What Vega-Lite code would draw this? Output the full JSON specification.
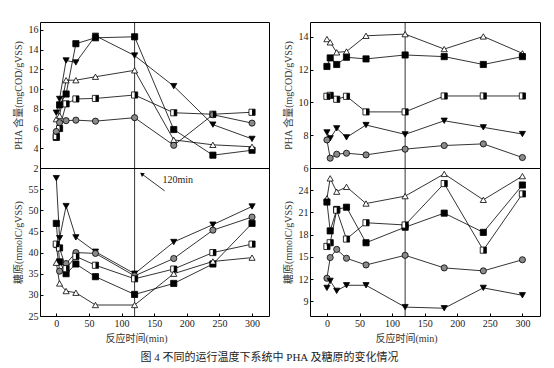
{
  "$schema": "https://vega.github.io/schema/vega-lite/v6.json",
  "padding": {"left": 12, "top": 21, "right": 5, "bottom": 4},
  "background": "white",
  "data": {"values": [
      {"p":"lt","s":"sq","t":0,"v":5.1},{"p":"lt","s":"sq","t":5,"v":8.4},{"p":"lt","s":"sq","t":15,"v":9.5},{"p":"lt","s":"sq","t":30,"v":14.6},{"p":"lt","s":"sq","t":60,"v":15.2},{"p":"lt","s":"sq","t":120,"v":15.3},{"p":"lt","s":"sq","t":180,"v":5.9},{"p":"lt","s":"sq","t":240,"v":3.3},{"p":"lt","s":"sq","t":300,"v":3.8},
      {"p":"lt","s":"hsq","t":0,"v":5.2},{"p":"lt","s":"hsq","t":5,"v":6.0},{"p":"lt","s":"hsq","t":15,"v":8.5},{"p":"lt","s":"hsq","t":30,"v":9.0},{"p":"lt","s":"hsq","t":60,"v":9.05},{"p":"lt","s":"hsq","t":120,"v":9.4},{"p":"lt","s":"hsq","t":180,"v":7.6},{"p":"lt","s":"hsq","t":240,"v":7.45},{"p":"lt","s":"hsq","t":300,"v":7.65},
      {"p":"lt","s":"tdn","t":0,"v":7.6},{"p":"lt","s":"tdn","t":5,"v":9.0},{"p":"lt","s":"tdn","t":15,"v":12.9},{"p":"lt","s":"tdn","t":30,"v":12.7},{"p":"lt","s":"tdn","t":60,"v":15.4},{"p":"lt","s":"tdn","t":120,"v":13.4},{"p":"lt","s":"tdn","t":180,"v":10.3},{"p":"lt","s":"tdn","t":240,"v":6.4},{"p":"lt","s":"tdn","t":300,"v":4.95},
      {"p":"lt","s":"tri","t":0,"v":6.95},{"p":"lt","s":"tri","t":5,"v":7.3},{"p":"lt","s":"tri","t":15,"v":10.9},{"p":"lt","s":"tri","t":30,"v":10.9},{"p":"lt","s":"tri","t":60,"v":11.25},{"p":"lt","s":"tri","t":120,"v":11.9},{"p":"lt","s":"tri","t":180,"v":4.85},{"p":"lt","s":"tri","t":240,"v":4.35},{"p":"lt","s":"tri","t":300,"v":4.15},
      {"p":"lt","s":"circ","t":0,"v":5.7},{"p":"lt","s":"circ","t":5,"v":6.6},{"p":"lt","s":"circ","t":15,"v":6.8},{"p":"lt","s":"circ","t":30,"v":6.85},{"p":"lt","s":"circ","t":60,"v":6.75},{"p":"lt","s":"circ","t":120,"v":7.1},{"p":"lt","s":"circ","t":180,"v":4.3},{"p":"lt","s":"circ","t":240,"v":7.4},{"p":"lt","s":"circ","t":300,"v":6.55},
      {"p":"lb","s":"tdn","t":0,"v":57.6},{"p":"lb","s":"tdn","t":5,"v":43.4},{"p":"lb","s":"tdn","t":15,"v":51.0},{"p":"lb","s":"tdn","t":30,"v":43.6},{"p":"lb","s":"tdn","t":60,"v":40.2},{"p":"lb","s":"tdn","t":120,"v":35.0},{"p":"lb","s":"tdn","t":180,"v":42.5},{"p":"lb","s":"tdn","t":240,"v":46.6},{"p":"lb","s":"tdn","t":300,"v":50.9},
      {"p":"lb","s":"circ","t":0,"v":41.8},{"p":"lb","s":"circ","t":5,"v":35.6},{"p":"lb","s":"circ","t":15,"v":37.4},{"p":"lb","s":"circ","t":30,"v":40.0},{"p":"lb","s":"circ","t":60,"v":39.8},{"p":"lb","s":"circ","t":120,"v":34.5},{"p":"lb","s":"circ","t":180,"v":38.6},{"p":"lb","s":"circ","t":240,"v":45.3},{"p":"lb","s":"circ","t":300,"v":48.4},
      {"p":"lb","s":"sq","t":0,"v":46.9},{"p":"lb","s":"sq","t":5,"v":37.8},{"p":"lb","s":"sq","t":15,"v":35.0},{"p":"lb","s":"sq","t":30,"v":37.3},{"p":"lb","s":"sq","t":60,"v":34.3},{"p":"lb","s":"sq","t":120,"v":30.1},{"p":"lb","s":"sq","t":180,"v":32.7},{"p":"lb","s":"sq","t":240,"v":37.3},{"p":"lb","s":"sq","t":300,"v":46.9},
      {"p":"lb","s":"hsq","t":0,"v":42.0},{"p":"lb","s":"hsq","t":5,"v":41.1},{"p":"lb","s":"hsq","t":15,"v":36.2},{"p":"lb","s":"hsq","t":30,"v":39.1},{"p":"lb","s":"hsq","t":60,"v":37.0},{"p":"lb","s":"hsq","t":120,"v":33.8},{"p":"lb","s":"hsq","t":180,"v":36.1},{"p":"lb","s":"hsq","t":240,"v":40.0},{"p":"lb","s":"hsq","t":300,"v":42.0},
      {"p":"lb","s":"tri","t":0,"v":37.6},{"p":"lb","s":"tri","t":5,"v":32.7},{"p":"lb","s":"tri","t":15,"v":30.9},{"p":"lb","s":"tri","t":30,"v":30.5},{"p":"lb","s":"tri","t":60,"v":27.6},{"p":"lb","s":"tri","t":120,"v":27.6},{"p":"lb","s":"tri","t":180,"v":35.0},{"p":"lb","s":"tri","t":240,"v":37.9},{"p":"lb","s":"tri","t":300,"v":38.8},
      {"p":"rt","s":"tri","t":0,"v":13.86},{"p":"rt","s":"tri","t":5,"v":13.66},{"p":"rt","s":"tri","t":15,"v":13.05},{"p":"rt","s":"tri","t":30,"v":13.1},{"p":"rt","s":"tri","t":60,"v":14.06},{"p":"rt","s":"tri","t":120,"v":14.16},{"p":"rt","s":"tri","t":180,"v":13.25},{"p":"rt","s":"tri","t":240,"v":14.02},{"p":"rt","s":"tri","t":300,"v":12.99},
      {"p":"rt","s":"sq","t":0,"v":12.19},{"p":"rt","s":"sq","t":5,"v":12.71},{"p":"rt","s":"sq","t":15,"v":12.31},{"p":"rt","s":"sq","t":30,"v":12.75},{"p":"rt","s":"sq","t":60,"v":12.65},{"p":"rt","s":"sq","t":120,"v":12.89},{"p":"rt","s":"sq","t":180,"v":12.79},{"p":"rt","s":"sq","t":240,"v":12.31},{"p":"rt","s":"sq","t":300,"v":12.79},
      {"p":"rt","s":"hsq","t":0,"v":10.37},{"p":"rt","s":"hsq","t":5,"v":10.43},{"p":"rt","s":"hsq","t":15,"v":10.19},{"p":"rt","s":"hsq","t":30,"v":10.37},{"p":"rt","s":"hsq","t":60,"v":9.42},{"p":"rt","s":"hsq","t":120,"v":9.42},{"p":"rt","s":"hsq","t":180,"v":10.39},{"p":"rt","s":"hsq","t":240,"v":10.39},{"p":"rt","s":"hsq","t":300,"v":10.39},
      {"p":"rt","s":"tdn","t":0,"v":8.17},{"p":"rt","s":"tdn","t":5,"v":7.81},{"p":"rt","s":"tdn","t":15,"v":8.42},{"p":"rt","s":"tdn","t":30,"v":7.87},{"p":"rt","s":"tdn","t":60,"v":8.62},{"p":"rt","s":"tdn","t":120,"v":8.05},{"p":"rt","s":"tdn","t":180,"v":8.88},{"p":"rt","s":"tdn","t":240,"v":8.48},{"p":"rt","s":"tdn","t":300,"v":8.07},
      {"p":"rt","s":"circ","t":0,"v":7.71},{"p":"rt","s":"circ","t":5,"v":6.6},{"p":"rt","s":"circ","t":15,"v":6.84},{"p":"rt","s":"circ","t":30,"v":6.9},{"p":"rt","s":"circ","t":60,"v":6.8},{"p":"rt","s":"circ","t":120,"v":7.15},{"p":"rt","s":"circ","t":180,"v":7.37},{"p":"rt","s":"circ","t":240,"v":7.47},{"p":"rt","s":"circ","t":300,"v":6.64},
      {"p":"rb","s":"tri","t":0,"v":22.9},{"p":"rb","s":"tri","t":5,"v":25.6},{"p":"rb","s":"tri","t":15,"v":23.8},{"p":"rb","s":"tri","t":30,"v":24.45},{"p":"rb","s":"tri","t":60,"v":22.2},{"p":"rb","s":"tri","t":120,"v":23.2},{"p":"rb","s":"tri","t":180,"v":26.2},{"p":"rb","s":"tri","t":240,"v":22.7},{"p":"rb","s":"tri","t":300,"v":25.9},
      {"p":"rb","s":"sq","t":0,"v":22.4},{"p":"rb","s":"sq","t":5,"v":18.5},{"p":"rb","s":"sq","t":15,"v":21.4},{"p":"rb","s":"sq","t":30,"v":21.7},{"p":"rb","s":"sq","t":60,"v":16.9},{"p":"rb","s":"sq","t":120,"v":19.0},{"p":"rb","s":"sq","t":180,"v":20.9},{"p":"rb","s":"sq","t":240,"v":18.3},{"p":"rb","s":"sq","t":300,"v":24.7},
      {"p":"rb","s":"hsq","t":0,"v":16.4},{"p":"rb","s":"hsq","t":5,"v":16.9},{"p":"rb","s":"hsq","t":15,"v":21.3},{"p":"rb","s":"hsq","t":30,"v":17.4},{"p":"rb","s":"hsq","t":60,"v":19.6},{"p":"rb","s":"hsq","t":120,"v":19.3},{"p":"rb","s":"hsq","t":180,"v":24.9},{"p":"rb","s":"hsq","t":240,"v":15.9},{"p":"rb","s":"hsq","t":300,"v":23.5},
      {"p":"rb","s":"circ","t":0,"v":12.1},{"p":"rb","s":"circ","t":5,"v":14.9},{"p":"rb","s":"circ","t":15,"v":16.0},{"p":"rb","s":"circ","t":30,"v":14.8},{"p":"rb","s":"circ","t":60,"v":13.9},{"p":"rb","s":"circ","t":120,"v":15.2},{"p":"rb","s":"circ","t":180,"v":13.5},{"p":"rb","s":"circ","t":240,"v":13.1},{"p":"rb","s":"circ","t":300,"v":14.6},
      {"p":"rb","s":"tdn","t":0,"v":10.8},{"p":"rb","s":"tdn","t":5,"v":11.75},{"p":"rb","s":"tdn","t":15,"v":10.4},{"p":"rb","s":"tdn","t":30,"v":11.15},{"p":"rb","s":"tdn","t":60,"v":11.15},{"p":"rb","s":"tdn","t":120,"v":8.2},{"p":"rb","s":"tdn","t":180,"v":8.05},{"p":"rb","s":"tdn","t":240,"v":10.8},{"p":"rb","s":"tdn","t":300,"v":9.8}
  ]},
  "columns": 2,
  "spacing": {"row": 0, "column": 41},
  "bounds": "flush",
  "title": {"text": "图 4   不同的运行温度下系统中 PHA 及糖原的变化情况", "orient": "bottom", "anchor": "middle", "fontSize": 11, "fontWeight": "normal", "font": "Liberation Serif, Noto Sans CJK SC", "color": "#222", "offset": 8, "dx": -7},
  "concat": [
    {
      "width": 229, "height": 146,
      "layer": [
        {"transform": [{"filter": "datum.p==='lt' && datum.s==='sq' && datum.t===120"}], "mark": {"type": "rule", "color": "black", "strokeWidth": 0.8}, "encoding": {"x": {"field": "t", "type": "quantitative", "axis": null}}},
        {"transform": [{"filter": "datum.p==='lt'"}], "mark": {"type": "line", "color": "black", "strokeWidth": 0.8},
         "encoding": {"x": {"field": "t", "type": "quantitative", "scale": {"domain": [-25, 326], "nice": false, "zero": false}, "axis": null},
                      "y": {"field": "v", "type": "quantitative", "scale": {"domain": [2, 16.8], "nice": false, "zero": false}, "axis": {"values": [2,4,6,8,10,12,14,16], "format": "d", "tickCount": 30, "labelOverlap": false, "title": "PHA 含量(mgCOD/gVSS)"}},
                      "detail": {"field": "s", "type": "nominal"}}},
        {"transform": [{"filter": "datum.p==='lt'"}], "mark": {"type": "point", "filled": true, "stroke": "black", "strokeWidth": 0.8, "size": 38, "opacity": 1},
         "encoding": {"x": {"field": "t", "type": "quantitative", "axis": null}, "y": {"field": "v", "type": "quantitative"},
                      "shape": {"field": "s", "type": "nominal", "scale": {"domain": ["sq","hsq","tdn","tri","circ"], "range": ["square","square","triangle-down","triangle-up","circle"]}},
                      "fill": {"field": "s", "type": "nominal", "scale": {"domain": ["sq","hsq","tdn","tri","circ"], "range": ["black","white","black","white","#8a8a8a"]}}}},
        {"transform": [{"filter": "datum.p==='lt' && datum.s==='hsq'"}], "mark": {"type": "point", "filled": true, "fill": "black", "shape": "M0,-1L1,-1L1,1L0,1Z", "size": 38, "opacity": 1},
         "encoding": {"x": {"field": "t", "type": "quantitative", "axis": null}, "y": {"field": "v", "type": "quantitative"}}}
      ]
    },
    {
      "width": 230, "height": 146,
      "layer": [
        {"transform": [{"filter": "datum.p==='rt' && datum.s==='sq' && datum.t===120"}], "mark": {"type": "rule", "color": "black", "strokeWidth": 0.8}, "encoding": {"x": {"field": "t", "type": "quantitative", "axis": null}}},
        {"transform": [{"filter": "datum.p==='rt'"}], "mark": {"type": "line", "color": "black", "strokeWidth": 0.8},
         "encoding": {"x": {"field": "t", "type": "quantitative", "scale": {"domain": [-26, 327], "nice": false, "zero": false}, "axis": null},
                      "y": {"field": "v", "type": "quantitative", "scale": {"domain": [6, 14.9], "nice": false, "zero": false}, "axis": {"values": [6,8,10,12,14], "format": "d", "tickCount": 30, "labelOverlap": false, "title": "PHA 含量(mgCOD/gVSS)"}},
                      "detail": {"field": "s", "type": "nominal"}}},
        {"transform": [{"filter": "datum.p==='rt'"}], "mark": {"type": "point", "filled": true, "stroke": "black", "strokeWidth": 0.8, "size": 38, "opacity": 1},
         "encoding": {"x": {"field": "t", "type": "quantitative", "axis": null}, "y": {"field": "v", "type": "quantitative"},
                      "shape": {"field": "s", "type": "nominal", "scale": {"domain": ["sq","hsq","tdn","tri","circ"], "range": ["square","square","triangle-down","triangle-up","circle"]}},
                      "fill": {"field": "s", "type": "nominal", "scale": {"domain": ["sq","hsq","tdn","tri","circ"], "range": ["black","white","black","white","#8a8a8a"]}}}},
        {"transform": [{"filter": "datum.p==='rt' && datum.s==='hsq'"}], "mark": {"type": "point", "filled": true, "fill": "black", "shape": "M0,-1L1,-1L1,1L0,1Z", "size": 38, "opacity": 1},
         "encoding": {"x": {"field": "t", "type": "quantitative", "axis": null}, "y": {"field": "v", "type": "quantitative"}}}
      ]
    },
    {
      "width": 229, "height": 148,
      "layer": [
        {"transform": [{"filter": "datum.p==='lb' && datum.s==='sq' && datum.t===120"}], "mark": {"type": "rule", "color": "black", "strokeWidth": 0.8}, "encoding": {"x": {"field": "t", "type": "quantitative"}}},
        {"transform": [{"filter": "datum.p==='lb'"}], "mark": {"type": "line", "color": "black", "strokeWidth": 0.8},
         "encoding": {"x": {"field": "t", "type": "quantitative", "scale": {"domain": [-25, 326], "nice": false, "zero": false}, "axis": {"values": [0,50,100,150,200,250,300], "format": "d", "tickCount": 30, "labelOverlap": false, "title": "反应时间(min)", "titleX": 96}},
                      "y": {"field": "v", "type": "quantitative", "scale": {"domain": [25, 60], "nice": false, "zero": false}, "axis": {"values": [25,30,35,40,45,50,55], "format": "d", "tickCount": 30, "labelOverlap": false, "title": "糖原(mmolC/gVSS)"}},
                      "detail": {"field": "s", "type": "nominal"}}},
        {"transform": [{"filter": "datum.p==='lb'"}], "mark": {"type": "point", "filled": true, "stroke": "black", "strokeWidth": 0.8, "size": 38, "opacity": 1},
         "encoding": {"x": {"field": "t", "type": "quantitative"}, "y": {"field": "v", "type": "quantitative"},
                      "shape": {"field": "s", "type": "nominal", "scale": {"domain": ["sq","hsq","tdn","tri","circ"], "range": ["square","square","triangle-down","triangle-up","circle"]}},
                      "fill": {"field": "s", "type": "nominal", "scale": {"domain": ["sq","hsq","tdn","tri","circ"], "range": ["black","white","black","white","#8a8a8a"]}}}},
        {"transform": [{"filter": "datum.p==='lb' && datum.s==='hsq'"}], "mark": {"type": "point", "filled": true, "fill": "black", "shape": "M0,-1L1,-1L1,1L0,1Z", "size": 38, "opacity": 1},
         "encoding": {"x": {"field": "t", "type": "quantitative"}, "y": {"field": "v", "type": "quantitative"}}},
        {"data": {"values": [{"t": 166, "v": 54.6, "t2": 131, "v2": 58.6}]}, "mark": {"type": "rule", "color": "black", "strokeWidth": 0.8},
         "encoding": {"x": {"field": "t", "type": "quantitative"}, "y": {"field": "v", "type": "quantitative"}, "x2": {"field": "t2"}, "y2": {"field": "v2"}}},
        {"data": {"values": [{"t": 131, "v": 58.6}]}, "mark": {"type": "point", "filled": true, "fill": "black", "shape": "triangle-up", "angle": 306, "size": 22, "opacity": 1},
         "encoding": {"x": {"field": "t", "type": "quantitative"}, "y": {"field": "v", "type": "quantitative"}}},
        {"data": {"values": [{"t": 186, "v": 57.2, "label": "120min"}]}, "mark": {"type": "text", "font": "Liberation Serif", "fontSize": 10, "color": "#222", "align": "center", "baseline": "middle"},
         "encoding": {"x": {"field": "t", "type": "quantitative"}, "y": {"field": "v", "type": "quantitative"}, "text": {"field": "label", "type": "nominal"}}}
      ]
    },
    {
      "width": 230, "height": 148,
      "layer": [
        {"transform": [{"filter": "datum.p==='rb' && datum.s==='sq' && datum.t===120"}], "mark": {"type": "rule", "color": "black", "strokeWidth": 0.8}, "encoding": {"x": {"field": "t", "type": "quantitative"}}},
        {"transform": [{"filter": "datum.p==='rb'"}], "mark": {"type": "line", "color": "black", "strokeWidth": 0.8},
         "encoding": {"x": {"field": "t", "type": "quantitative", "scale": {"domain": [-26, 327], "nice": false, "zero": false}, "axis": {"values": [0,50,100,150,200,250,300], "format": "d", "tickCount": 30, "labelOverlap": false, "title": "反应时间(min)", "titleX": 96}},
                      "y": {"field": "v", "type": "quantitative", "scale": {"domain": [7, 27], "nice": false, "zero": false}, "axis": {"values": [9,12,15,18,21,24], "format": "d", "tickCount": 30, "labelOverlap": false, "title": "糖原(mmolC/gVSS)"}},
                      "detail": {"field": "s", "type": "nominal"}}},
        {"transform": [{"filter": "datum.p==='rb'"}], "mark": {"type": "point", "filled": true, "stroke": "black", "strokeWidth": 0.8, "size": 38, "opacity": 1},
         "encoding": {"x": {"field": "t", "type": "quantitative"}, "y": {"field": "v", "type": "quantitative"},
                      "shape": {"field": "s", "type": "nominal", "scale": {"domain": ["sq","hsq","tdn","tri","circ"], "range": ["square","square","triangle-down","triangle-up","circle"]}},
                      "fill": {"field": "s", "type": "nominal", "scale": {"domain": ["sq","hsq","tdn","tri","circ"], "range": ["black","white","black","white","#8a8a8a"]}}}},
        {"transform": [{"filter": "datum.p==='rb' && datum.s==='hsq'"}], "mark": {"type": "point", "filled": true, "fill": "black", "shape": "M0,-1L1,-1L1,1L0,1Z", "size": 38, "opacity": 1},
         "encoding": {"x": {"field": "t", "type": "quantitative"}, "y": {"field": "v", "type": "quantitative"}}}
      ]
    }
  ],
  "config": {
    "view": {"stroke": "black", "strokeWidth": 1},
    "legend": {"disable": true},
    "axis": {"labelFont": "Liberation Serif", "labelFontSize": 10, "labelColor": "#222", "labelOverlap": false, "titleFont": "Liberation Serif, Noto Sans CJK SC", "titleFontSize": 10, "titleFontWeight": "normal", "titleColor": "#333", "grid": false, "domain": false, "tickSize": -3, "tickColor": "black", "labelPadding": 5, "titlePadding": 5}
  }
}
